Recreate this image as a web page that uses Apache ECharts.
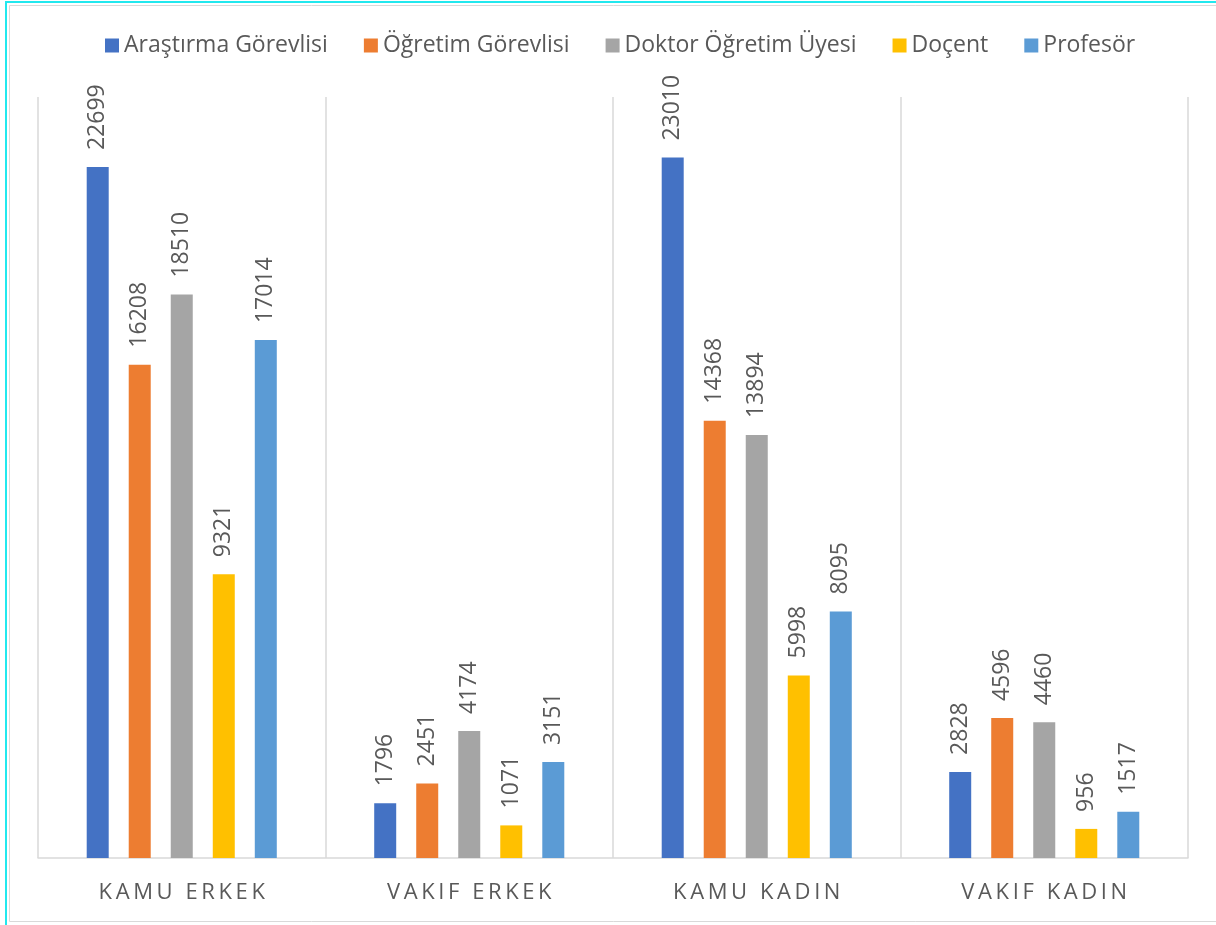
<!DOCTYPE html>
<html><head><meta charset="utf-8">
<script src="https://cdn.jsdelivr.net/npm/echarts@6/dist/echarts.min.js"></script>
<style>html,body{margin:0;padding:0;background:#fff}#c{width:1216px;height:925px}</style>
</head><body><div id="c"></div>
<script>
const categories = ['KAMU ERKEK', 'VAKIF ERKEK', 'KAMU KADIN', 'VAKIF KADIN'];
const seriesNames = ['Araştırma Görevlisi', 'Öğretim Görevlisi', 'Doktor Öğretim Üyesi', 'Doçent', 'Profesör'];
const arastirma = [22699, 1796, 23010, 2828];
const ogretim = [16208, 2451, 14368, 4596];
const doktor = [18510, 4174, 13894, 4460];
const docent = [9321, 1071, 5998, 956];
const profesor = [17014, 3151, 8095, 1517];
const colors = ['#4472C4', '#ED7D31', '#A5A5A5', '#FFC000', '#5B9BD5'];
const values = [arastirma, ogretim, doktor, docent, profesor];

const FONT = '"Open Sans", "Noto Sans", sans-serif';
const chart = echarts.init(document.getElementById('c'));
chart.setOption({
  animation: false,
  color: colors,
  textStyle: { fontFamily: FONT },
  graphic: [
    { type: 'rect', shape: { x: 9.5, y: 5.5, width: 1300, height: 916 }, style: { fill: 'none', stroke: '#d9d9d9', lineWidth: 1 } },
    { type: 'rect', shape: { x: 6, y: 2, width: 1300, height: 1300 }, style: { fill: 'none', stroke: '#22e8ee', lineWidth: 2 } }
  ],
  legend: {
    top: 29, left: 100,
    itemWidth: 14, itemHeight: 14, itemGap: 36,
    icon: 'rect',
    textStyle: { fontSize: 23, color: '#595959', fontFamily: FONT },
    data: seriesNames
  },
  grid: { left: 38, right: 28, top: 97, bottom: 67, containLabel: false },
  xAxis: {
    type: 'category', data: categories,
    axisLine: { lineStyle: { color: '#d9d9d9', width: 1.5 } },
    axisTick: { show: false },
    splitLine: { show: true, interval: 0, lineStyle: { color: '#d9d9d9', width: 1.5 } },
    axisLabel: {
      interval: 0,
      margin: 24,
      formatter: v => v.split('').map(ch => '{s|' + ch + '}').join(''),
      rich: { s: { fontSize: 22, color: '#595959', fontFamily: FONT, padding: [0, 1.8] } }
    }
  },
  yAxis: { type: 'value', min: 0, max: 25000, show: false, splitLine: { show: false } },
  series: seriesNames.map((n, i) => ({
    name: n, type: 'bar', data: values[i],
    barWidth: 22, barGap: '91%',
    label: {
      show: true, position: 'top', rotate: 90, align: 'left', verticalAlign: 'middle',
      distance: 17, fontSize: 23, color: '#595959', fontFamily: FONT
    }
  }))
});
</script></body></html>
